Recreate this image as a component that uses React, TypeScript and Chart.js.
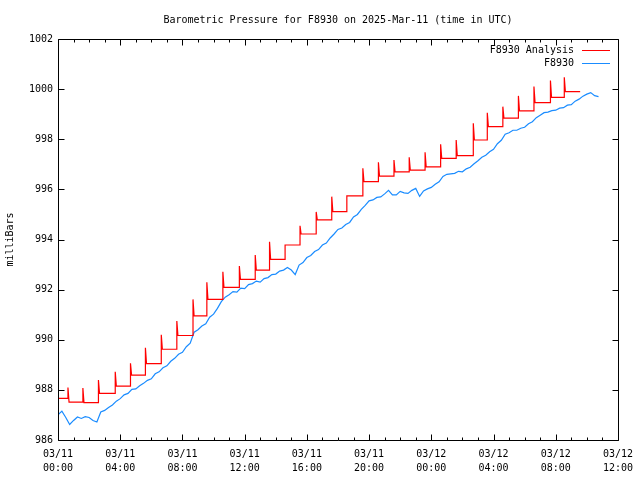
import React, { useEffect, useRef } from "react";
import { Chart, registerables } from "chart.js";

Chart.register(...registerables);

const TITLE = "Barometric Pressure for F8930 on 2025-Mar-11 (time in UTC)";
const Y_LABEL = "milliBars";
const DAY_LABELS = ["03/11", "03/12"];
const SERIES_NAMES = ["F8930 Analysis", "F8930"];

// Analysis series (hours since 03/11 00:00 UTC)
const analysisStartValue = 987.66;
const spikeHours = [0.64, 1.6, 2.6, 3.68, 4.66, 5.62, 6.64, 7.64, 8.68, 9.57, 10.6, 11.66, 12.68, 13.6, 14.6, 15.56, 16.6, 17.6, 18.57, 19.6, 20.6, 21.6, 22.58, 23.6, 24.6, 25.6, 26.7, 27.6, 28.6, 29.6, 30.6, 31.66, 32.55];
const spikePeaks = [988.09, 988.07, 988.39, 988.72, 989.06, 989.68, 990.2, 990.75, 991.61, 992.29, 992.71, 992.94, 993.38, 993.91, 993.78, 994.55, 995.1, 995.71, 995.74, 996.84, 997.08, 997.17, 997.28, 997.48, 997.8, 997.97, 998.64, 999.06, 999.3, 999.73, 1000.1, 1000.34, 1000.47];
const spikeBases = [987.51, 987.49, 987.86, 988.15, 988.59, 989.05, 989.62, 990.17, 990.95, 991.61, 992.09, 992.41, 992.78, 993.21, 993.78, 994.22, 994.78, 995.11, 995.74, 996.31, 996.53, 996.7, 996.77, 996.9, 997.24, 997.35, 997.97, 998.5, 998.84, 999.13, 999.46, 999.67, 999.9];
const analysisEndHour = 33.57;

// Observations, every 15 minutes from 03/11 00:00 UTC
const obsStepHours = 0.25;
const obsValues = [
  987.0, 987.15, 986.9, 986.62, 986.78, 986.92, 986.86, 986.93, 986.9, 986.78,
  986.72, 987.12, 987.18, 987.3, 987.4, 987.55, 987.65, 987.8, 987.86, 988.02,
  988.04, 988.16, 988.26, 988.38, 988.44, 988.64, 988.72, 988.88, 988.96, 989.14,
  989.26, 989.42, 989.5, 989.72, 989.86, 990.3, 990.4, 990.55, 990.64, 990.9,
  991.02, 991.25, 991.52, 991.7, 991.8, 991.92, 991.9, 992.06, 992.04, 992.2,
  992.24, 992.34, 992.3, 992.44, 992.48, 992.6, 992.62, 992.74, 992.78, 992.88,
  992.78, 992.6, 992.98, 993.08, 993.28, 993.36, 993.52, 993.6, 993.78, 993.86,
  994.06, 994.22, 994.4, 994.46, 994.6, 994.68, 994.9, 995.0, 995.2, 995.36,
  995.54, 995.58, 995.68, 995.7, 995.82, 995.96, 995.78, 995.78, 995.92, 995.86,
  995.84, 995.96, 996.04, 995.72, 995.94, 996.02, 996.08, 996.2, 996.3, 996.52,
  996.6, 996.62, 996.64, 996.72, 996.7, 996.82, 996.88, 997.02, 997.14, 997.28,
  997.36, 997.5, 997.6, 997.82, 997.96, 998.2, 998.26, 998.36, 998.36, 998.44,
  998.48, 998.62, 998.7, 998.86, 998.96, 999.06, 999.08, 999.14, 999.16, 999.24,
  999.26, 999.36, 999.38, 999.52, 999.6, 999.72, 999.8, 999.86, 999.74, 999.7,
];

const X_MIN = 0, X_MAX = 36, X_STEP = 4, X_MINOR = 1;
const Y_MIN = 986, Y_MAX = 1002, Y_STEP = 2;

const FONT = "'DejaVu Sans Mono', monospace";
const RED = "#ff0000";
const BLUE = "#1a8cff";

function buildAnalysis() {
  const pts: { x: number; y: number }[] = [{ x: 0, y: analysisStartValue }];
  let prev = analysisStartValue;
  spikeHours.forEach((t, i) => {
    pts.push({ x: t, y: prev });
    pts.push({ x: t, y: spikePeaks[i] });
    pts.push({ x: t + 0.07, y: spikeBases[i] });
    prev = spikeBases[i];
  });
  pts.push({ x: analysisEndHour, y: prev });
  return pts;
}

function buildObs() {
  return obsValues.map((v, i) => ({ x: i * obsStepHours, y: v }));
}

const framePlugin = {
  id: "gnuplotFrame",
  afterDraw(chart: any) {
    const { ctx, chartArea } = chart;
    const xs = chart.scales.x;
    const ys = chart.scales.y;
    const L = Math.round(chartArea.left) + 0.5;
    const R = Math.round(chartArea.right) + 0.5;
    const T = Math.round(chartArea.top) + 0.5;
    const B = Math.round(chartArea.bottom) + 0.5;
    ctx.save();
    ctx.strokeStyle = "#000";
    ctx.lineWidth = 1;
    ctx.beginPath();
    ctx.rect(L, T, R - L, B - T);
    for (let h = X_MIN; h <= X_MAX; h += X_MINOR) {
      const px = Math.round(xs.getPixelForValue(h)) + 0.5;
      const len = h % X_STEP === 0 ? 6 : 3;
      ctx.moveTo(px, B);
      ctx.lineTo(px, B - len);
      ctx.moveTo(px, T);
      ctx.lineTo(px, T + len);
    }
    for (let v = Y_MIN; v <= Y_MAX; v += Y_STEP) {
      const py = Math.round(ys.getPixelForValue(v)) + 0.5;
      ctx.moveTo(L, py);
      ctx.lineTo(L + 6, py);
      ctx.moveTo(R, py);
      ctx.lineTo(R - 6, py);
    }
    ctx.stroke();

    ctx.fillStyle = "#000";
    ctx.font = `10px ${FONT}`;
    ctx.textAlign = "center";
    ctx.textBaseline = "middle";
    ctx.fillText(TITLE, (chartArea.left + chartArea.right) / 2, 20);

    const colors = [RED, BLUE];
    SERIES_NAMES.forEach((name, i) => {
      const y = 50 + i * 13;
      ctx.fillStyle = "#000";
      ctx.textAlign = "right";
      ctx.fillText(name, 574, y);
      ctx.strokeStyle = colors[i];
      ctx.beginPath();
      ctx.moveTo(582, Math.round(y) + 0.5);
      ctx.lineTo(610, Math.round(y) + 0.5);
      ctx.stroke();
    });
    ctx.restore();
  },
};

export default function App() {
  const ref = useRef<HTMLCanvasElement | null>(null);
  useEffect(() => {
    document.body.style.margin = "0";
    const canvas = ref.current;
    if (!canvas) return;
    const chart = new Chart(canvas, {
      type: "line",
      data: {
        datasets: [
          {
            label: SERIES_NAMES[0],
            data: buildAnalysis(),
            borderColor: RED,
            borderWidth: 1.2,
            pointRadius: 0,
            tension: 0,
          },
          {
            label: SERIES_NAMES[1],
            data: buildObs(),
            borderColor: BLUE,
            borderWidth: 1.2,
            pointRadius: 0,
            tension: 0,
          },
        ],
      },
      options: {
        animation: false,
        responsive: false,
        devicePixelRatio: 1,
        layout: { padding: { left: 0, right: 18, top: 39, bottom: 0 } },
        plugins: {
          legend: { display: false },
          title: { display: false },
          tooltip: { enabled: false },
        },
        scales: {
          x: {
            type: "linear",
            min: X_MIN,
            max: X_MAX,
            grid: { display: false, drawTicks: false },
            border: { display: false },
            afterFit: (s: any) => {
              s.height = 40;
            },
            afterBuildTicks: (s: any) => {
              const t = [];
              for (let h = X_MIN; h <= X_MAX; h += X_STEP) t.push({ value: h });
              s.ticks = t;
            },
            ticks: {
              color: "#000",
              font: { family: FONT, size: 10, lineHeight: 1.4 },
              padding: 7,
              maxRotation: 0,
              autoSkip: false,
              callback: (v: any) => {
                const h = Number(v);
                const day = DAY_LABELS[Math.floor(h / 24)] ?? DAY_LABELS[1];
                const hh = String(h % 24).padStart(2, "0");
                return [day, `${hh}:00`];
              },
            },
          },
          y: {
            type: "linear",
            min: Y_MIN,
            max: Y_MAX,
            grid: { display: false, drawTicks: false },
            border: { display: false },
            afterFit: (s: any) => {
              s.width = 58;
            },
            ticks: {
              stepSize: Y_STEP,
              color: "#000",
              font: { family: FONT, size: 10 },
              padding: 5,
              callback: (v: any) => String(Math.round(Number(v))),
            },
            title: {
              display: true,
              text: Y_LABEL,
              color: "#000",
              font: { family: FONT, size: 10 },
              padding: { top: 4, bottom: 0 },
            },
          },
        },
      },
      plugins: [framePlugin],
    });
    return () => chart.destroy();
  }, []);
  return (
    <div style={{ position: "absolute", left: 0, top: 0, width: 640, height: 480 }}>
      <canvas ref={ref} width={640} height={480} />
    </div>
  );
}
